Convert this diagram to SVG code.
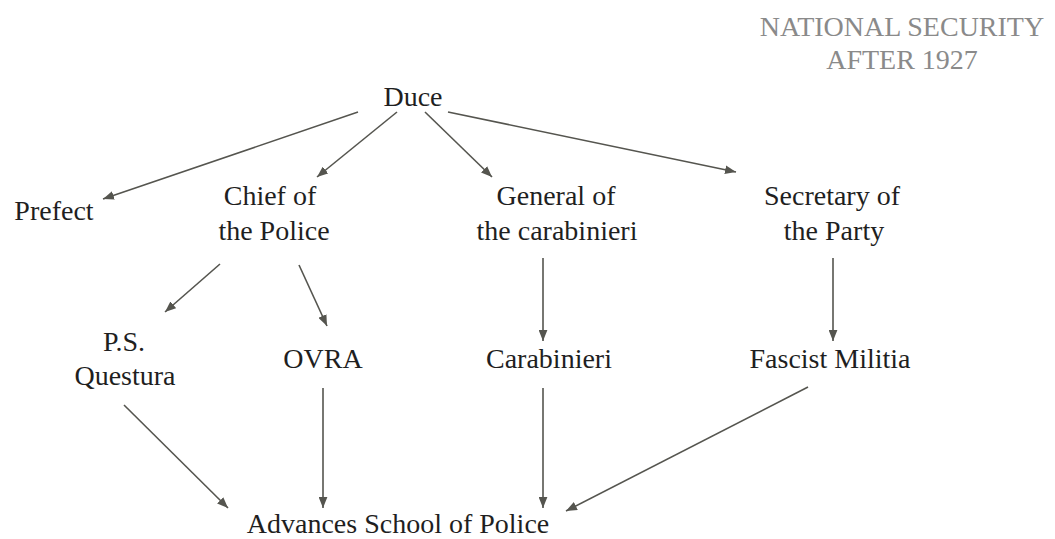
<svg xmlns="http://www.w3.org/2000/svg" width="1055" height="539" viewBox="0 0 1055 539">
  <style>
    .lbl { font-size: 28px; fill: #1f1f1f; text-anchor: middle; }
    .title { font-size: 28px; fill: #8a8a8a; text-anchor: middle; }
    .edge { stroke: #55554f; stroke-width: 1.6; fill: none; marker-end: url(#arr); }
  </style>
  <defs>
    <marker id="arr" viewBox="0 0 10 8" refX="10" refY="4" markerWidth="11" markerHeight="9" markerUnits="userSpaceOnUse" orient="auto">
      <path d="M0,0 L10,4 L0,8 Z" fill="#55554f"/>
    </marker>
  </defs>
  <rect width="1055" height="539" fill="#ffffff"/>

  <g font-family="'Liberation Serif', 'Times New Roman', serif">
  <g id="title">
    <text class="title" x="902" y="36">NATIONAL SECURITY</text>
    <text class="title" x="902" y="69">AFTER 1927</text>
  </g>

  <g id="connectors">
    <line class="edge" x1="358" y1="112" x2="103" y2="199"/>
    <line class="edge" x1="397" y1="112" x2="317" y2="177"/>
    <line class="edge" x1="425" y1="112" x2="492" y2="177"/>
    <line class="edge" x1="448" y1="112" x2="736" y2="172"/>
    <line class="edge" x1="220" y1="264" x2="165" y2="312"/>
    <line class="edge" x1="299" y1="265" x2="327" y2="326"/>
    <line class="edge" x1="543" y1="258" x2="543" y2="341"/>
    <line class="edge" x1="833" y1="258" x2="833" y2="341"/>
    <line class="edge" x1="124" y1="405" x2="228" y2="508"/>
    <line class="edge" x1="323" y1="388" x2="323" y2="508"/>
    <line class="edge" x1="543" y1="388" x2="543" y2="508"/>
    <line class="edge" x1="808" y1="387" x2="566" y2="511"/>
  </g>

  <g id="duce"><text class="lbl" x="413" y="106">Duce</text></g>
  <g id="prefect"><text class="lbl" x="54" y="220">Prefect</text></g>
  <g id="chief">
    <text class="lbl" x="270" y="205">Chief  of</text>
    <text class="lbl" x="274" y="240">the Police</text>
  </g>
  <g id="general">
    <text class="lbl" x="556" y="205">General of</text>
    <text class="lbl" x="557" y="240">the carabinieri</text>
  </g>
  <g id="secretary">
    <text class="lbl" x="832" y="205">Secretary of</text>
    <text class="lbl" x="834" y="240">the Party</text>
  </g>
  <g id="questura">
    <text class="lbl" x="124" y="351">P.S.</text>
    <text class="lbl" x="125" y="385">Questura</text>
  </g>
  <g id="ovra"><text class="lbl" x="323" y="368">OVRA</text></g>
  <g id="carabinieri"><text class="lbl" x="549" y="368">Carabinieri</text></g>
  <g id="militia"><text class="lbl" x="830" y="368">Fascist Militia</text></g>
  <g id="school"><text class="lbl" x="398" y="533">Advances School of Police</text></g>
  </g>
</svg>
